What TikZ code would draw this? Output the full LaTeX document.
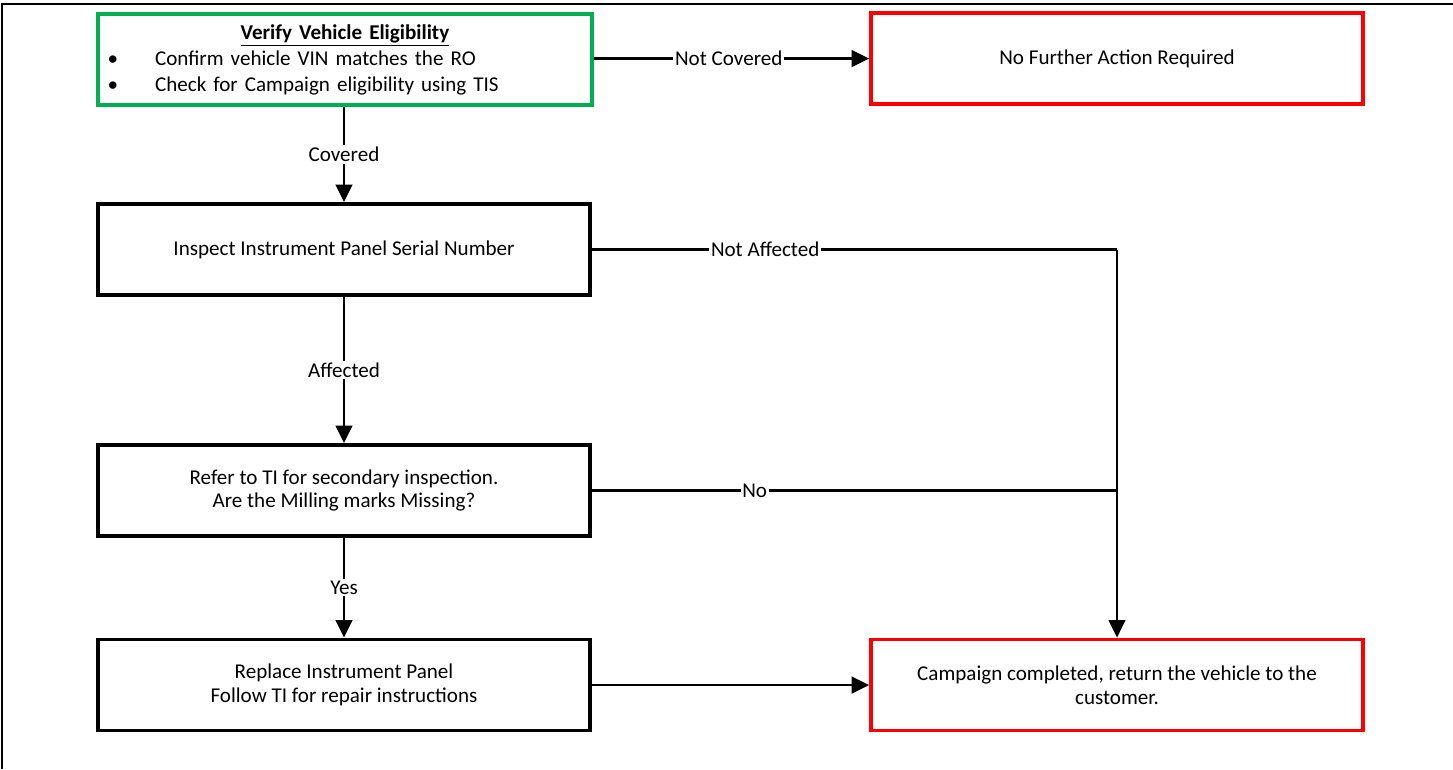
\documentclass[tikz,border=0pt]{standalone}
\usepackage{fontspec}
\setmainfont{Carlito}
\usetikzlibrary{arrows.meta}
\definecolor{vert}{RGB}{0,176,80}
\definecolor{rouge}{RGB}{255,0,0}
\tikzset{
  boite/.style={draw=black,line width=2.2pt,minimum width=9.84cm,minimum height=1.82cm,align=center,inner sep=2pt},
  fin/.style={boite,draw=rouge},
  fleche/.style={line width=1.5pt,-{Triangle[length=10pt,width=9.5pt]}},
  trait/.style={line width=1.5pt},
  etiq/.style={fill=white,inner sep=1pt}
}
\begin{document}
\begin{tikzpicture}[x=0.02cm,y=-0.02cm,font=\fontsize{12}{13.6}\selectfont] % 1 unite = 1 pixel
\useasboundingbox (0,0) rectangle (1453,769);
\draw[line width=0.8pt] (2,769)--(2,4)--(1453,4); % le cadre
% les boites
\node[boite,draw=vert,minimum width=9.88cm,text width=9.5cm,inner xsep=0.15cm,align=left,
      font=\fontsize{12}{14.3}\selectfont] (verif) at (345,59.5)
  {\makebox[\linewidth]{\textbf{\underline{Verify Vehicle Eligibility}}}\\[1pt]
   \makebox[0.95cm][l]{\textbullet}Confirm vehicle VIN matches the RO\\
   \makebox[0.95cm][l]{\textbullet}Check for Campaign eligibility using TIS};
\node[fin] (aucune) at (1117,58.5) {No Further Action Required};
\node[boite] (inspect) at (344,249.5) {Inspect Instrument Panel Serial Number};
\node[boite] (refer) at (344,490.5) {Refer to TI for secondary inspection.\\Are the Milling marks Missing?};
\node[boite] (remplace) at (344,685) {Replace Instrument Panel\\Follow TI for repair instructions};
\node[fin] (campagne) at (1117,685) {Campaign completed, return the vehicle to the\\customer.};
\coordinate (coin) at (inspect.east-|campagne.north);
\coordinate (jonction) at (refer.east-|campagne.north);
% les fleches
\draw[fleche] (verif.east|-aucune.west)--(aucune.west) node[etiq,pos=0.49] {Not Covered};
\draw[fleche] (verif.south-|inspect.north)--(inspect.north) node[etiq,midway] {Covered};
\draw[fleche] (inspect.south)--(refer.north) node[etiq,midway] {Affected};
\draw[fleche] (refer.south)--(remplace.north) node[etiq,midway] {Yes};
\draw[fleche] (remplace.east)--(campagne.west);
\draw[trait] (inspect.east)--(coin) node[etiq,pos=0.33] {Not Affected};
\draw[fleche] (coin)--(campagne.north);
\draw[trait] (refer.east)--(jonction) node[etiq,pos=0.31] {No};
\end{tikzpicture}
\end{document}
